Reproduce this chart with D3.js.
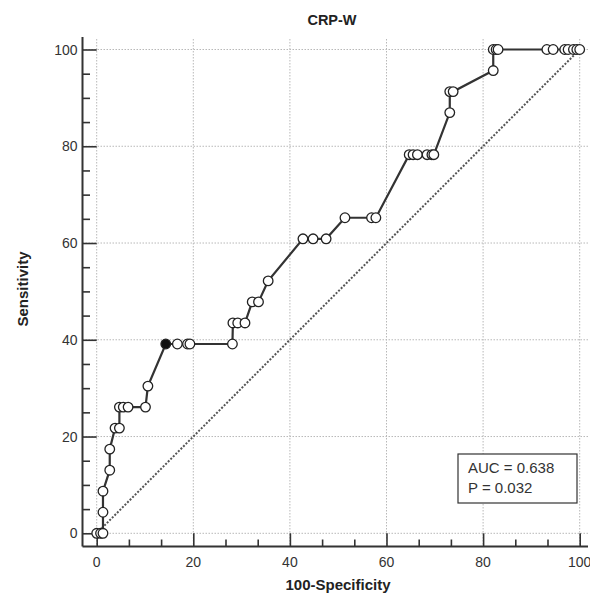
<!DOCTYPE html>
<html>
<head>
<meta charset="utf-8">
<script src="https://cdn.jsdelivr.net/npm/d3@7"></script>
<style>
  html, body { margin: 0; padding: 0; background: #fff; }
  svg { display: block; font-family: "Liberation Sans", Arial, sans-serif; }
</style>
</head>
<body>
<svg id="chart" width="590" height="596"></svg>
<script>
// ROC curve points: 100-Specificity (x) and Sensitivity (y), in percent
const fpr = [0, 0.8, 1.3, 1.3, 1.3, 2.7, 2.7, 3.8, 4.7, 4.7, 5.5, 6.5, 10.1, 10.6,
  14.3, 16.7, 18.8, 19.3, 28.1, 28.2, 29.2, 30.7, 32.2, 33.5, 35.5, 42.7, 44.8, 47.5,
  51.4, 56.9, 57.8, 64.7, 65.5, 66.4, 68.4, 69.4, 69.8, 73.1, 73.1, 73.8, 82.1, 82.1,
  82.7, 83.1, 93.2, 94.5, 96.9, 97.6, 98.7, 99.4, 100];
const tpr = [0, 0, 0, 4.35, 8.70, 13.04, 17.39, 21.74, 21.74, 26.09, 26.09, 26.09, 26.09, 30.43,
  39.13, 39.13, 39.13, 39.13, 39.13, 43.48, 43.48, 43.48, 47.83, 47.83, 52.17, 60.87, 60.87, 60.87,
  65.22, 65.22, 65.22, 78.26, 78.26, 78.26, 78.26, 78.26, 78.26, 86.96, 91.30, 91.30, 95.65, 100,
  100, 100, 100, 100, 100, 100, 100, 100, 100];
// index of the optimal criterion point (drawn filled)
const criterionIndex = 14;

const majorTicks = [0, 20, 40, 60, 80, 100];
const chartTitle = "CRP-W";
const xTitle = "100-Specificity";
const yTitle = "Sensitivity";
const legendLines = ["AUC = 0.638", "P = 0.032"];

const svg = d3.select("#chart");
const x = d3.scaleLinear().domain([0, 100]).range([96.7, 579.7]);
const y = d3.scaleLinear().domain([0, 100]).range([533.3, 49.5]);

const axisX = 82.5;     // left axis line position
const axisY = 546.5;    // bottom axis line position
const rightEdge = 588;
const topEdge = 37;

// grid
const grid = svg.append("g").attr("stroke", "#b8b8b8").attr("stroke-width", 1)
  .attr("stroke-dasharray", "1.5,1.5");
grid.selectAll("line.v").data(majorTicks).join("line")
  .attr("x1", d => x(d)).attr("x2", d => x(d))
  .attr("y1", topEdge + 2).attr("y2", axisY);
grid.selectAll("line.h").data(majorTicks).join("line")
  .attr("x1", axisX).attr("x2", rightEdge)
  .attr("y1", d => y(d)).attr("y2", d => y(d));

// left axis
const yAxis = d3.axisRight(y).tickValues(majorTicks).tickSize(x(0) - axisX).tickFormat("");
const gy = svg.append("g").attr("transform", `translate(${axisX},0)`).call(yAxis);
gy.select(".domain").remove();
const yMinor = d3.axisRight(y).tickValues(d3.range(5, 100, 5).filter(v => v % 20 !== 0))
  .tickSize(7.5).tickFormat("");
const gym = svg.append("g").attr("transform", `translate(${axisX},0)`).call(yMinor);
gym.select(".domain").remove();
svg.selectAll("g.tick line").attr("stroke", "#333").attr("stroke-width", 1.6);
svg.append("line").attr("x1", axisX).attr("x2", axisX).attr("y1", topEdge).attr("y2", axisY)
  .attr("stroke", "#333").attr("stroke-width", 2);
svg.append("g").selectAll("text").data(majorTicks).join("text")
  .attr("x", axisX - 5).attr("y", d => y(d)).attr("dy", "0.36em")
  .attr("text-anchor", "end").attr("font-size", 14).attr("fill", "#333")
  .text(d => d);

// bottom axis
const xAxis = d3.axisTop(x).tickValues(majorTicks).tickSize(axisY - y(0)).tickFormat("");
const gx = svg.append("g").attr("transform", `translate(0,${axisY})`).call(xAxis);
gx.select(".domain").remove();
const xMinorVals = [];
for (let i = 0; i < 5; i++) { xMinorVals.push(i * 20 + 20 / 3, i * 20 + 40 / 3); }
const xMinor = d3.axisTop(x).tickValues(xMinorVals).tickSize(7).tickFormat("");
const gxm = svg.append("g").attr("transform", `translate(0,${axisY})`).call(xMinor);
gxm.select(".domain").remove();
gx.selectAll("line").attr("stroke", "#333").attr("stroke-width", 1.6);
gxm.selectAll("line").attr("stroke", "#333").attr("stroke-width", 1.6);
svg.append("line").attr("x1", axisX).attr("x2", rightEdge).attr("y1", axisY).attr("y2", axisY)
  .attr("stroke", "#333").attr("stroke-width", 2);
svg.append("g").selectAll("text").data(majorTicks).join("text")
  .attr("x", d => x(d)).attr("y", axisY + 20)
  .attr("text-anchor", "middle").attr("font-size", 14).attr("fill", "#333")
  .text(d => d);

// reference diagonal
svg.append("line")
  .attr("x1", x(0)).attr("y1", y(0)).attr("x2", x(100)).attr("y2", y(100))
  .attr("stroke", "#555").attr("stroke-width", 2).attr("stroke-dasharray", "2,1.6");

// ROC curve
const pts = fpr.map((v, i) => ({ fx: v, ty: tpr[i], i }));
svg.append("path").datum(pts)
  .attr("fill", "none").attr("stroke", "#333").attr("stroke-width", 2.2)
  .attr("d", d3.line().x(d => x(d.fx)).y(d => y(d.ty)));
svg.append("g").selectAll("circle").data(pts).join("circle")
  .attr("cx", d => x(d.fx)).attr("cy", d => y(d.ty)).attr("r", 4.8)
  .attr("fill", d => d.i === criterionIndex ? "#111" : "#fff")
  .attr("stroke", "#222").attr("stroke-width", 1.3);

// titles
svg.append("text").attr("x", 332).attr("y", 25).attr("text-anchor", "middle")
  .attr("font-size", 14.5).attr("font-weight", "bold").attr("fill", "#222").text(chartTitle);
svg.append("text").attr("x", 338).attr("y", 590).attr("text-anchor", "middle")
  .attr("font-size", 15).attr("font-weight", "bold").attr("fill", "#222").text(xTitle);
svg.append("text").attr("transform", "translate(28,289) rotate(-90)").attr("text-anchor", "middle")
  .attr("font-size", 15).attr("font-weight", "bold").attr("fill", "#222").text(yTitle);

// AUC box
svg.append("rect").attr("x", 458).attr("y", 454).attr("width", 119).attr("height", 49)
  .attr("fill", "#fff").attr("stroke", "#333").attr("stroke-width", 1.2);
svg.append("g").selectAll("text").data(legendLines).join("text")
  .attr("x", 468).attr("y", (d, i) => 473 + i * 20)
  .attr("font-size", 15).attr("fill", "#333").text(d => d);
</script>
</body>
</html>
